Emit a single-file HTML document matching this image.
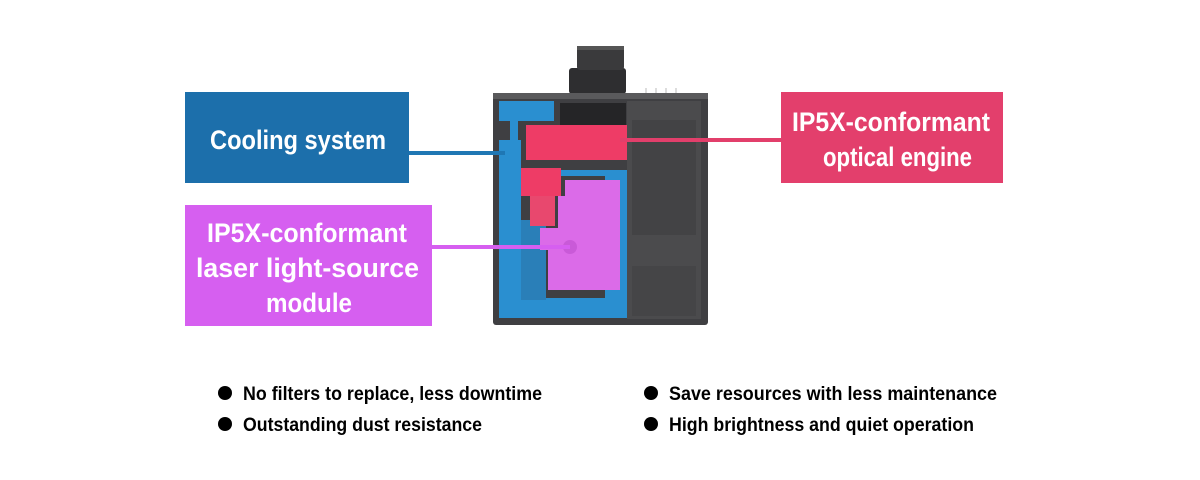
<!DOCTYPE html>
<html><head><meta charset="utf-8"><style>
html,body{margin:0;padding:0;background:#fff;}
svg{display:block}
text{font-family:"Liberation Sans Narrow","Liberation Sans",sans-serif;font-weight:bold;}
</style></head><body>
<svg width="1200" height="480" viewBox="0 0 1200 480" xmlns="http://www.w3.org/2000/svg">
<rect width="1200" height="480" fill="#fff"/>
<!-- lens -->
<rect x="569" y="68" width="57" height="26" rx="3" fill="#2e2e30"/>
<rect x="577" y="46" width="47" height="24" rx="3" fill="#3a3a3c"/>
<rect x="577" y="46" width="47" height="4" fill="#555"/>
<!-- body -->
<rect x="493" y="93" width="215" height="232" rx="3" fill="#3f3f42"/>
<rect x="493" y="93" width="215" height="6" fill="#5a5a5c"/>
<rect x="627" y="101" width="74" height="218" fill="#4b4b4d"/>
<rect x="632" y="120" width="64" height="115" fill="#434345"/>
<rect x="632" y="266" width="64" height="50" fill="#454547"/>
<rect x="645" y="88" width="2" height="5" fill="#ddd"/><rect x="655" y="88" width="2" height="5" fill="#ddd"/><rect x="665" y="88" width="2" height="5" fill="#ddd"/><rect x="675" y="88" width="2" height="5" fill="#ddd"/>
<!-- blue cooling -->
<rect x="499" y="101" width="55" height="20" fill="#2a8fd0"/>
<rect x="499" y="140" width="22" height="178" fill="#2a8fd0"/>
<rect x="510" y="121" width="8" height="25" fill="#2a8fd0"/>
<rect x="499" y="298" width="128" height="20" fill="#2a8fd0"/>
<rect x="535" y="170" width="92" height="6" fill="#2a8fd0"/>
<rect x="605" y="175" width="22" height="125" fill="#2a8fd0"/>
<rect x="521" y="220" width="25" height="80" fill="#2a7fb8"/>
<rect x="560" y="103" width="66" height="22" fill="#252527"/>
<!-- red optical -->
<rect x="526" y="125" width="101" height="35" fill="#ee3c66"/>
<rect x="521" y="168" width="40" height="28" fill="#ee3c66"/>
<rect x="530" y="196" width="25" height="30" fill="#e8486e"/>
<!-- pink laser -->
<path d="M565 180 H620 V290 H548 V250 H540 V228 H558 V196 H565 Z" fill="#db6be8"/>
<circle cx="570" cy="247" r="7" fill="#c95ad8"/>
<!-- connectors -->
<rect x="408" y="151" width="97" height="4" fill="#1f77b4"/>
<rect x="620" y="138" width="161" height="4" fill="#e23f6b"/>
<rect x="432" y="245" width="138" height="4" fill="#d65ff0"/>
<!-- boxes -->
<rect x="185" y="92" width="224" height="91" fill="#1c6fab"/>
<text x="210" y="149" font-size="27" fill="#fff" textLength="176" lengthAdjust="spacingAndGlyphs">Cooling system</text>
<rect x="781" y="92" width="222" height="91" fill="#e33f6c"/>
<text x="792" y="131" font-size="27" fill="#fff" textLength="198" lengthAdjust="spacingAndGlyphs">IP5X-conformant</text>
<text x="823" y="166" font-size="27" fill="#fff" textLength="149" lengthAdjust="spacingAndGlyphs">optical engine</text>
<rect x="185" y="205" width="247" height="121" fill="#d65ff0"/>
<text x="207" y="242" font-size="27" fill="#fff" textLength="200" lengthAdjust="spacingAndGlyphs">IP5X-conformant</text>
<text x="196" y="277" font-size="27" fill="#fff" textLength="223" lengthAdjust="spacingAndGlyphs">laser light-source</text>
<text x="266" y="312" font-size="27" fill="#fff" textLength="86" lengthAdjust="spacingAndGlyphs">module</text>
<!-- bullets -->
<circle cx="225" cy="393" r="7" fill="#000"/>
<text x="243" y="400" font-size="19" fill="#000" textLength="299" lengthAdjust="spacingAndGlyphs">No filters to replace, less downtime</text>
<circle cx="225" cy="424" r="7" fill="#000"/>
<text x="243" y="431" font-size="19" fill="#000" textLength="239" lengthAdjust="spacingAndGlyphs">Outstanding dust resistance</text>
<circle cx="651" cy="393" r="7" fill="#000"/>
<text x="669" y="400" font-size="19" fill="#000" textLength="328" lengthAdjust="spacingAndGlyphs">Save resources with less maintenance</text>
<circle cx="651" cy="424" r="7" fill="#000"/>
<text x="669" y="431" font-size="19" fill="#000" textLength="305" lengthAdjust="spacingAndGlyphs">High brightness and quiet operation</text>
</svg>
</body></html>
